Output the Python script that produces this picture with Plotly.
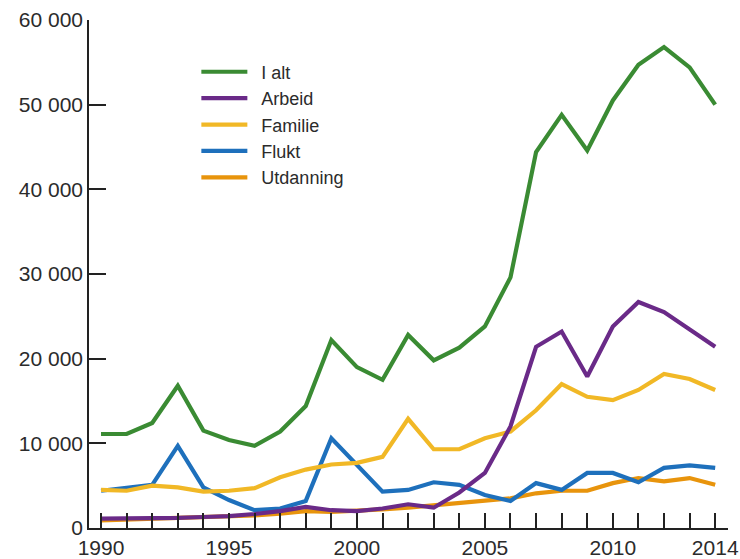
import plotly.graph_objects as go

# Years covered by the series
years = list(range(1990, 2015))

# Immigration by reason, persons per year
i_alt = [11100, 11100, 12400, 16800, 11500, 10400, 9700, 11400, 14400, 22200,
         19000, 17500, 22800, 19800, 21300, 23800, 29600, 44400, 48800, 44600,
         50500, 54700, 56800, 54400, 50000]
arbeid = [1100, 1100, 1150, 1200, 1300, 1400, 1650, 2000, 2500, 2100,
          2000, 2300, 2800, 2400, 4200, 6500, 12000, 21400, 23200, 17900,
          23800, 26700, 25500, 23500, 21400]
familie = [4500, 4400, 5000, 4800, 4300, 4400, 4700, 6000, 6900, 7500,
           7700, 8400, 12900, 9300, 9300, 10600, 11400, 13900, 17000, 15500,
           15100, 16300, 18200, 17600, 16300]
flukt = [4400, 4700, 5100, 9700, 4800, 3300, 2100, 2300, 3200, 10600,
         7500, 4300, 4500, 5400, 5100, 3900, 3200, 5300, 4500, 6500,
         6500, 5400, 7100, 7400, 7100]
utdanning = [900, 1000, 1050, 1100, 1200, 1300, 1500, 1700, 2000, 1900,
             2000, 2200, 2400, 2700, 3000, 3300, 3500, 4100, 4400, 4400,
             5300, 5900, 5500, 5900, 5100]

series_names = ["I alt", "Arbeid", "Familie", "Flukt", "Utdanning"]
series_values = [i_alt, arbeid, familie, flukt, utdanning]
series_colors = ["#3a8b33", "#6a2a88", "#f1b826", "#1e70bc", "#e8940c"]

x_labels = {1990: "1990", 1995: "1995", 2000: "2000", 2005: "2005", 2010: "2010", 2014: "2014"}
y_vals = [0, 10000, 20000, 30000, 40000, 50000, 60000]
y_text = ["0", "10 000", "20 000", "30 000", "40 000", "50 000", "60 000"]

FONT_FAMILY = "Liberation Sans, Arial, sans-serif"
tick_font = dict(family=FONT_FAMILY, size=21, color="#2b2b2b")

fig = go.Figure()
# Back series are drawn first so "I alt" sits on top; legendrank keeps the listed order
for rank in reversed(range(len(series_names))):
    fig.add_trace(go.Scatter(
        x=years, y=series_values[rank],
        name="\u2002" + series_names[rank],
        mode="lines",
        line=dict(color=series_colors[rank], width=4.2),
        legendrank=rank + 1,
    ))

fig.update_layout(
    width=740, height=559,
    margin=dict(l=89, r=12, t=20, b=31, autoexpand=False),
    paper_bgcolor="white", plot_bgcolor="white",
    font=tick_font,
    showlegend=True,
    legend=dict(
        x=0.168, y=0.934, xanchor="left", yanchor="top",
        bgcolor="rgba(0,0,0,0)", borderwidth=0,
        font=dict(family=FONT_FAMILY, size=18, color="#2b2b2b"),
        itemwidth=46, traceorder="normal",
    ),
    xaxis=dict(
        range=[1989.53, 2014.5],
        tickvals=years,
        ticktext=[x_labels.get(y, "") for y in years],
        ticks="inside", ticklen=15, tickwidth=1.5, tickcolor="#222222",
        showline=True, linecolor="#222222", linewidth=1.5,
        showgrid=False, zeroline=False, automargin=False,
        tickfont=tick_font,
    ),
    yaxis=dict(
        range=[0, 60000],
        tickvals=y_vals, ticktext=y_text,
        ticks="inside", ticklen=17, tickwidth=1.5, tickcolor="#222222",
        showline=True, linecolor="#222222", linewidth=1.5,
        showgrid=False, zeroline=False, automargin=False,
        tickfont=tick_font,
    ),
)

fig.write_html("out.html")
